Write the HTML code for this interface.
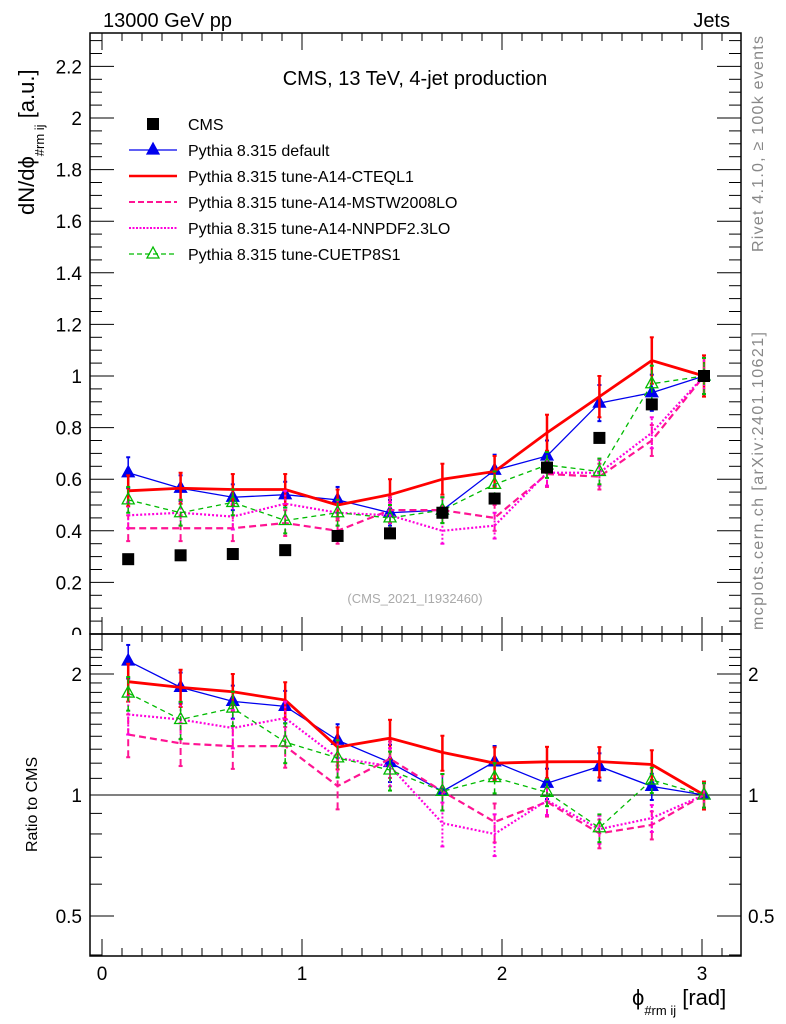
<!DOCTYPE html>
<html><head><meta charset="utf-8"><style>
html,body{margin:0;padding:0;background:#fff;}
svg{display:block;font-family:"Liberation Sans",sans-serif;}
</style></head><body>
<svg id="chart" width="786" height="1024" viewBox="0 0 786 1024">
<g id="axes"></g><g id="marks"></g>
<text x="103" y="27" font-size="20">13000 GeV pp</text>
<text x="730" y="27" font-size="20" text-anchor="end">Jets</text>
<text x="415" y="85" font-size="20" text-anchor="middle">CMS, 13 TeV, 4-jet production</text>
<text x="415" y="603" font-size="13" fill="#aaa" text-anchor="middle">(CMS_2021_I1932460)</text>
<text transform="translate(763,252) rotate(-90)" font-size="16" fill="#888" textLength="216">Rivet 4.1.0, ≥ 100k events</text>
<text transform="translate(763,630) rotate(-90)" font-size="16" fill="#888" textLength="298">mcplots.cern.ch [arXiv:2401.10621]</text>
<text transform="translate(34,215) rotate(-90)" font-size="22">dN/dϕ<tspan font-size="13" dy="10">#rm ij</tspan><tspan dy="-10"> [a.u.]</tspan></text>
<text transform="translate(37,852) rotate(-90)" font-size="16">Ratio to CMS</text>
<text x="632" y="1005" font-size="22">ϕ<tspan font-size="13" dy="10">#rm ij</tspan><tspan dy="-10"> [rad]</tspan></text>
<g id="legend"></g>
</svg>
<script>
const xCenters=[0.131,0.393,0.654,0.916,1.178,1.440,1.702,1.963,2.225,2.487,2.749,3.010];
const cmsVals=[0.29,0.305,0.31,0.325,0.38,0.39,0.47,0.525,0.645,0.76,0.89,1.0];
const defVals=[0.625,0.565,0.53,0.54,0.52,0.47,0.48,0.635,0.69,0.895,0.935,1.0];
const cteqVals=[0.555,0.565,0.56,0.56,0.50,0.54,0.60,0.63,0.78,0.92,1.06,1.0];
const mstwVals=[0.41,0.41,0.41,0.43,0.40,0.48,0.48,0.45,0.62,0.61,0.75,1.0];
const nnpdfVals=[0.46,0.47,0.455,0.505,0.47,0.46,0.40,0.42,0.625,0.625,0.78,1.0];
const cuetVals=[0.52,0.47,0.51,0.44,0.47,0.45,0.48,0.58,0.655,0.63,0.97,1.0];
const defErr=[0.06,0.05,0.05,0.05,0.05,0.05,0.05,0.06,0.06,0.07,0.07,0.07];
const cteqErr=[0.06,0.06,0.06,0.06,0.06,0.06,0.06,0.06,0.07,0.08,0.09,0.08];
const mstwErr=[0.05,0.05,0.05,0.05,0.05,0.05,0.05,0.05,0.05,0.05,0.06,0.07];
const nnpdfErr=[0.05,0.05,0.05,0.05,0.05,0.05,0.05,0.05,0.05,0.05,0.06,0.07];
const cuetErr=[0.05,0.05,0.05,0.05,0.05,0.05,0.05,0.05,0.05,0.05,0.07,0.07];
const mainTicks=[0,0.2,0.4,0.6,0.8,1,1.2,1.4,1.6,1.8,2,2.2];
const mainTickLabels=["0","0.2","0.4","0.6","0.8","1","1.2","1.4","1.6","1.8","2","2.2"];
const xTicks=[0,1,2,3];
const xTickLabels=["0","1","2","3"];
const ratioTicks=[0.5,1,2];
const ratioTickLabels=["0.5","1","2"];

const L=90,R=741,T=33,M=634,B=956;
const X=v=>102+200*v;
const Y=v=>634-258*v;
const YR=v=>795-121*Math.log2(v);
const NS="http://www.w3.org/2000/svg";
function mk(tag,attrs,parent){const e=document.createElementNS(NS,tag);for(const k in attrs)e.setAttribute(k,attrs[k]);parent.appendChild(e);return e;}
const axes=document.getElementById('axes'),marks=document.getElementById('marks');

const f1=mk('rect',{x:L,y:T,width:R-L,height:M-T,fill:'none',stroke:'#000','stroke-width':1.5},axes);

const f2=mk('rect',{x:L,y:M,width:R-L,height:B-M,fill:'none',stroke:'#000','stroke-width':1.5},axes);


for(let v=-0.05;v<=3.2;v+=0.1){const t=Math.round(v*10)/10;if(t<0)continue;const px=X(t);if(px>R)continue;
 const maj=Math.abs(t-Math.round(t))<1e-6;const len=maj?17:8;
 [[T,1],[M,-1],[M,1],[B,-1]].forEach(([y0,d])=>{mk('line',{x1:px,x2:px,y1:y0,y2:y0+d*len,stroke:'#000','stroke-width':1},axes);});}
xTicks.forEach((v,i)=>{const t=mk('text',{x:X(v),y:980,'font-size':19,'text-anchor':'middle'},axes);t.textContent=xTickLabels[i];
 });

for(let k=0;k<=46;k++){const v=k*0.05;const py=Y(v);if(py<T)continue;const maj=k%4===0;const len=maj?24:12;
 mk('line',{x1:L,x2:L+len,y1:py,y2:py,stroke:'#000','stroke-width':1},axes);
 mk('line',{x1:R,x2:R-len,y1:py,y2:py,stroke:'#000','stroke-width':1},axes);}
mainTicks.forEach((v,i)=>{const t=mk('text',{x:82,y:Y(v)+7,'font-size':19,'text-anchor':'end'},axes);t.textContent=mainTickLabels[i];
 });
mk('rect',{x:40,y:M+1,width:48,height:8,fill:'#fff'},axes);

const rminor=[0.4,0.6,0.7,0.8,0.9,1.1,1.2,1.3,1.4,1.5,1.6,1.7,1.8,1.9,2.1,2.2,2.3];
rminor.forEach(v=>{const py=YR(v);if(py<M||py>B)return;
 mk('line',{x1:L,x2:L+12,y1:py,y2:py,stroke:'#000'},axes);mk('line',{x1:R,x2:R-12,y1:py,y2:py,stroke:'#000'},axes);});
ratioTicks.forEach((v,i)=>{const py=YR(v);
 mk('line',{x1:L,x2:L+24,y1:py,y2:py,stroke:'#000'},axes);mk('line',{x1:R,x2:R-24,y1:py,y2:py,stroke:'#000'},axes);
 const t=mk('text',{x:82,y:py+7,'font-size':19,'text-anchor':'end'},axes);t.textContent=ratioTickLabels[i];
 
 const t2=mk('text',{x:748,y:py+7,'font-size':19},axes);t2.textContent=ratioTickLabels[i];
 });
const ref=mk('line',{x1:L,x2:R,y1:YR(1),y2:YR(1),stroke:'#000','stroke-width':1},axes);


const series=[
 {name:'default',vals:defVals,err:defErr,color:'#0000ee',w:1.3,dash:'',marker:'tri-fill'},
 {name:'cteql1',vals:cteqVals,err:cteqErr,color:'#ff0000',w:2.8,dash:'',marker:''},
 {name:'mstw2008lo',vals:mstwVals,err:mstwErr,color:'#ff1493',w:2.2,dash:'7,4',marker:''},
 {name:'nnpdf23lo',vals:nnpdfVals,err:nnpdfErr,color:'#ff00dd',w:2.2,dash:'2,2',marker:''},
 {name:'cuetp8s1',vals:cuetVals,err:cuetErr,color:'#00bb00',w:1.3,dash:'5,4',marker:'tri-open'}];
function tri(g,x,y,col,fill){const p=mk('polygon',{points:`${x},${y-7} ${x-6},${y+4} ${x+6},${y+4}`,fill:fill?col:'#fff','fill-opacity':fill?1:0,stroke:col,'stroke-width':1.3},g);return p;}

series.forEach(s=>{
 const g=mk('g',{},marks);
 const pts=xCenters.map((x,i)=>X(x)+','+Y(s.vals[i])).join(' ');
 mk('polyline',{points:pts,fill:'none',stroke:s.color,'stroke-width':s.w,'stroke-dasharray':s.dash},g);
 const rpts=xCenters.map((x,i)=>X(x)+','+YR(s.vals[i]/cmsVals[i])).join(' ');
 mk('polyline',{points:rpts,fill:'none',stroke:s.color,'stroke-width':s.w,'stroke-dasharray':s.dash},g);
 xCenters.forEach((x,i)=>{const px=X(x);const v=s.vals[i],e=s.err[i];
  const ew=Math.max(1.5,s.w*0.9);
  mk('line',{x1:px,x2:px,y1:Y(v-e),y2:Y(v+e),stroke:s.color,'stroke-width':ew,'stroke-dasharray':s.dash},g);
  mk('line',{x1:px-2,x2:px+2,y1:Y(v+e),y2:Y(v+e),stroke:s.color,'stroke-width':2},g);
  mk('line',{x1:px-2,x2:px+2,y1:Y(v-e),y2:Y(v-e),stroke:s.color,'stroke-width':2},g);
  const r=v/cmsVals[i],re=e/cmsVals[i];
  mk('line',{x1:px,x2:px,y1:YR(Math.max(0.3,r-re)),y2:YR(r+re),stroke:s.color,'stroke-width':ew,'stroke-dasharray':s.dash},g);
  mk('line',{x1:px-2,x2:px+2,y1:YR(r+re),y2:YR(r+re),stroke:s.color,'stroke-width':2},g);
  mk('line',{x1:px-2,x2:px+2,y1:YR(Math.max(0.3,r-re)),y2:YR(Math.max(0.3,r-re)),stroke:s.color,'stroke-width':2},g);
  if(s.marker){const m1=tri(g,px,Y(v),s.color,s.marker==='tri-fill');
   const m2=tri(g,px,YR(r),s.color,s.marker==='tri-fill');}
 });
});
const gd=mk('g',{},marks);
xCenters.forEach((x,i)=>{const r=mk('rect',{x:X(x)-6,y:Y(cmsVals[i])-6,width:12,height:12,fill:'#000'},gd);
 });

const lg=document.getElementById('legend');
const items=[['CMS','#000','','sq',0],['Pythia 8.315 default','#0000ee','','tri-fill',1.3],['Pythia 8.315 tune-A14-CTEQL1','#ff0000','','',2.5],
 ['Pythia 8.315 tune-A14-MSTW2008LO','#ff1493','6,3','',2],['Pythia 8.315 tune-A14-NNPDF2.3LO','#ff00dd','2,1.5','',2],['Pythia 8.315 tune-CUETP8S1','#00bb00','5,3','tri-open',1.2]];
items.forEach((it,k)=>{const y=124+26*k;const g=mk('g',{},lg);
 
 if(it[3]==='sq')mk('rect',{x:147,y:y-6,width:12,height:12,fill:'#000'},g);
 else{mk('line',{x1:129,x2:177,y1:y,y2:y,stroke:it[1],'stroke-width':it[4],'stroke-dasharray':it[2]},g);
  if(it[3])tri(g,153,y,it[1],it[3]==='tri-fill');}
 const t=mk('text',{x:188,y:y+6,'font-size':16},g);t.textContent=it[0];});
</script>
</body></html>
